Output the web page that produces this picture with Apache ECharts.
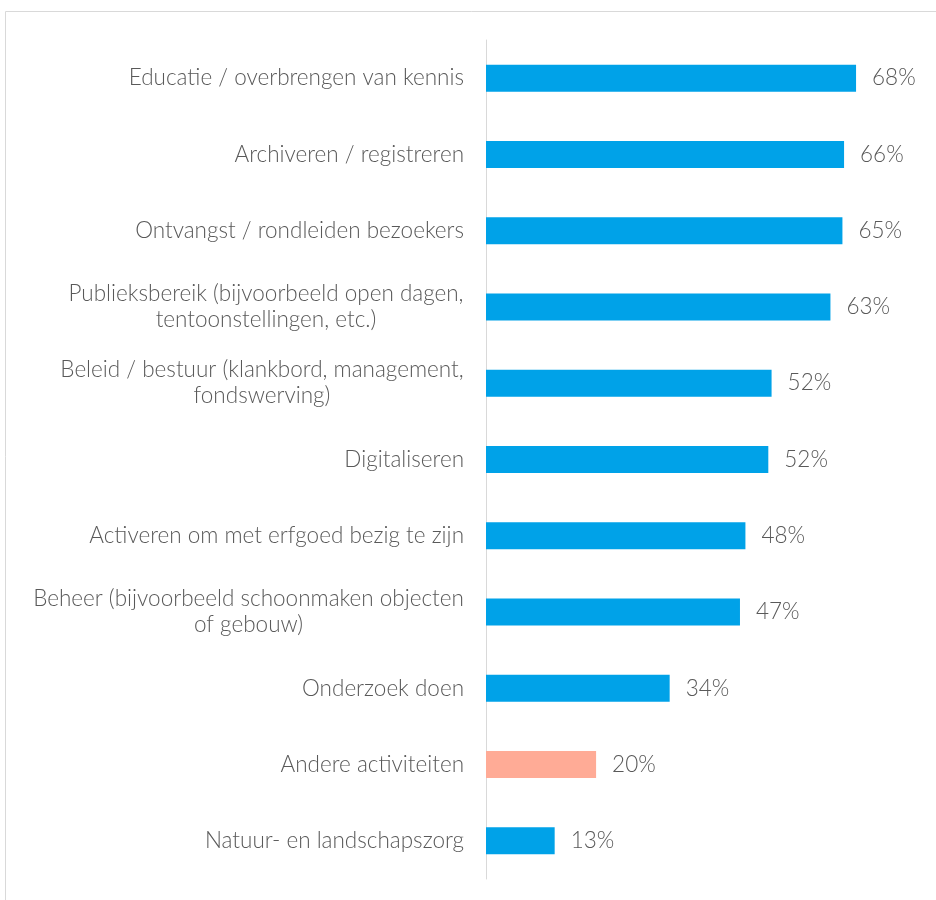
<!DOCTYPE html>
<html>
<head>
<meta charset="utf-8">
<script src="https://cdn.jsdelivr.net/npm/echarts@6/dist/echarts.min.js"></script>
<style>
  html, body { margin: 0; padding: 0; background: #fff; }
  #chart { width: 936px; height: 900px; }
</style>
</head>
<body>
<div id="chart"></div>
<script>
const categories = [
  'Educatie / overbrengen van kennis',
  'Archiveren / registreren',
  'Ontvangst / rondleiden bezoekers',
  'Publieksbereik (bijvoorbeeld open dagen,\ntentoonstellingen, etc.)',
  'Beleid / bestuur (klankbord, management,\nfondswerving)',
  'Digitaliseren',
  'Activeren om met erfgoed bezig te zijn',
  'Beheer (bijvoorbeeld schoonmaken objecten\nof gebouw)',
  'Onderzoek doen',
  'Andere activiteiten',
  'Natuur- en landschapszorg'
]
const values = [67.9, 65.7, 65.4, 63.2, 52.4, 51.8, 47.6, 46.6, 33.7, 20.2, 12.6]
const highlight = ['Andere activiteiten']

const FONT = 'Lato'
const FONT_SIZE = 22.5
const TEXT_COLOR = '#595959'

// multi-line labels are centred line by line, so give each line the width of the widest one
const ctx = document.createElement('canvas').getContext('2d')
ctx.font = '300 ' + FONT_SIZE + 'px ' + FONT
const rich = {}
const labelText = {}
categories.forEach(function (c, i) {
  const lines = c.split('\n')
  if (lines.length === 1) {
    labelText[c] = c
    return
  }
  const w = Math.max.apply(null, lines.map(function (l) { return ctx.measureText(l).width }))
  rich['l' + i] = { width: Math.ceil(w), align: 'center', fontFamily: FONT, fontWeight: 300, fontSize: FONT_SIZE, color: TEXT_COLOR, lineHeight: 26 }
  labelText[c] = lines.map(function (l) { return '{l' + i + '|' + l + '}' }).join('\n')
})

const chart = echarts.init(document.getElementById('chart'))
chart.setOption({
  animation: false,
  textStyle: { fontFamily: FONT },
  graphic: [
    {
      type: 'rect',
      shape: { x: 5.5, y: 11.5, width: 1000, height: 1000 },
      style: { fill: 'none', stroke: '#d9d9d9', lineWidth: 1 },
      silent: true
    }
  ],
  grid: {
    left: 486,
    right: 14,
    top: 40,
    bottom: 21
  },
  xAxis: {
    type: 'value',
    min: 0,
    max: 80,
    show: false
  },
  yAxis: {
    type: 'category',
    inverse: true,
    data: categories,
    axisLine: { lineStyle: { color: '#d9d9d9', width: 1 } },
    axisTick: { show: false },
    axisLabel: {
      margin: 22,
      color: TEXT_COLOR,
      fontFamily: FONT,
      fontWeight: 300,
      fontSize: FONT_SIZE,
      lineHeight: 26,
      formatter: function (v) { return labelText[v] },
      rich: rich
    }
  },
  series: [
    {
      type: 'bar',
      barWidth: 27,
      data: values.map(function (v, i) {
        return {
          value: v,
          itemStyle: { color: highlight.indexOf(categories[i]) >= 0 ? '#ffab96' : '#00a2e8' }
        }
      }),
      label: {
        show: true,
        position: 'right',
        distance: 16,
        color: TEXT_COLOR,
        fontFamily: FONT,
        fontWeight: 300,
        fontSize: FONT_SIZE,
        formatter: function (p) { return Math.round(p.value) + '%' }
      }
    }
  ]
})
</script>
</body>
</html>
